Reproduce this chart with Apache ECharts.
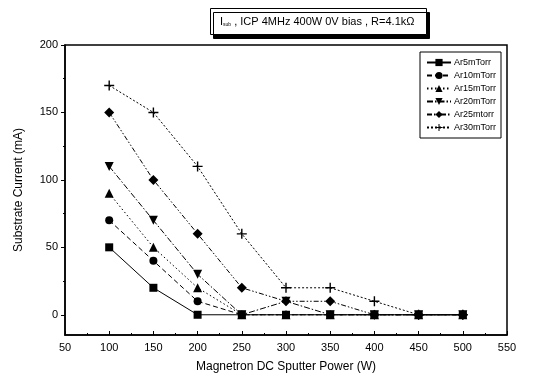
<!DOCTYPE html>
<html>
<head>
<meta charset="utf-8">
<script src="https://cdn.jsdelivr.net/npm/echarts@6/dist/echarts.min.js"></script>
<style>
  html, body { margin: 0; padding: 0; background: #fff; }
  #chart { width: 547px; height: 378px; }
</style>
</head>
<body>
<div id="chart"></div>
<script>
const powers = [100, 150, 200, 250, 300, 350, 400, 450, 500];
const seriesNames = ['Ar5mTorr', 'Ar10mTorr', 'Ar15mTorr', 'Ar20mTorr', 'Ar25mtorr', 'Ar30mTorr'];
const ar5 = [50, 20, 0, 0, 0, 0, 0, 0, 0];
const ar10 = [70, 40, 10, 0, 0, 0, 0, 0, 0];
const ar15 = [90, 50, 20, 0, 0, 0, 0, 0, 0];
const ar20 = [110, 70, 30, 0, 10, 0, 0, 0, 0];
const ar25 = [150, 100, 60, 20, 10, 10, 0, 0, 0];
const ar30 = [170, 150, 110, 60, 20, 20, 10, 0, 0];
const yMajorTicks = [0, 50, 100, 150, 200];
const yMinorTicks = [25, 75, 125, 175];

const allValues = [ar5, ar10, ar15, ar20, ar25, ar30];
const symbols = [
  'rect',
  'circle',
  'triangle',
  'path://M0,0L10,0L5,9Z',
  'diamond',
  'path://M4.3,0L5.7,0L5.7,4.3L10,4.3L10,5.7L5.7,5.7L5.7,10L4.3,10L4.3,5.7L0,5.7L0,4.3L4.3,4.3Z'
];
const symbolSizes = [8, 8, 9, 9, 10, 10];
const dashes = ['solid', [5, 3], [1.5, 2.5], [6, 2, 1.5, 2], [5, 2, 1.5, 2, 1.5, 2], [2, 2]];

const chart = echarts.init(document.getElementById('chart'));
const font = 'Liberation Sans, Arial, sans-serif';

chart.setOption({
  animation: false,
  title: {
    text: '{i|I}{s|sub} , ICP 4MHz 400W 0V bias , R=4.1k\u03a9',
    left: 210,
    top: 8,
    padding: [8, 12, 8, 10],
    borderColor: '#000',
    borderWidth: 1,
    backgroundColor: '#fff',
    shadowColor: '#000',
    shadowBlur: 0,
    shadowOffsetX: 3,
    shadowOffsetY: 4,
    textStyle: {
      fontFamily: font,
      fontSize: 11,
      fontWeight: 'normal',
      color: '#000',
      rich: {
        i: { fontFamily: font, fontSize: 11, color: '#000' },
        s: { fontFamily: font, fontSize: 5, color: '#000', verticalAlign: 'bottom', padding: [6, 0, 0, 0] }
      }
    }
  },
  legend: {
    data: seriesNames,
    orient: 'vertical',
    left: 420,
    top: 52,
    itemGap: 4,
    itemWidth: 24,
    itemHeight: 9,
    padding: [6, 5, 6, 6],
    borderColor: '#000',
    borderWidth: 1,
    textStyle: { fontFamily: font, fontSize: 9, color: '#000', padding: [0, 0, 0, -2] }
  },
  grid: { left: 65, right: 40, top: 45, bottom: 43, show: true, borderColor: '#000', borderWidth: 1.5 },
  xAxis: {
    type: 'value',
    min: 50,
    max: 550,
    interval: 50,
    name: 'Magnetron DC Sputter Power (W)',
    nameLocation: 'middle',
    nameGap: 26,
    nameTextStyle: { fontFamily: font, fontSize: 12, color: '#000' },
    axisLine: { onZero: false, lineStyle: { color: '#000', width: 1.5 } },
    axisTick: { inside: true, length: 4, lineStyle: { color: '#000' } },
    minorTick: { show: true, splitNumber: 2, length: 2, lineStyle: { color: '#000' } },
    axisLabel: { fontFamily: font, fontSize: 11, color: '#000', margin: 7 },
    splitLine: { show: false }
  },
  yAxis: [
    {
      type: 'value',
      min: -15,
      max: 200,
      name: 'Substrate Current (mA)',
      nameLocation: 'middle',
      nameGap: 40,
      nameTextStyle: { fontFamily: font, fontSize: 12, color: '#000' },
      axisLine: { onZero: false, lineStyle: { color: '#000', width: 1.5 } },
      axisTick: { length: 4, customValues: yMajorTicks, lineStyle: { color: '#000' } },
      axisLabel: { fontFamily: font, fontSize: 11, color: '#000', margin: 7, customValues: yMajorTicks },
      splitLine: { show: false }
    },
    {
      type: 'value',
      position: 'left',
      min: -15,
      max: 200,
      axisLine: { show: false, onZero: false },
      axisTick: { length: 2, customValues: yMinorTicks, lineStyle: { color: '#000' } },
      axisLabel: { show: false, customValues: yMinorTicks },
      splitLine: { show: false }
    }
  ],
  series: seriesNames.map((name, i) => ({
    name,
    type: 'line',
    data: powers.map((p, j) => [p, allValues[i][j]]),
    symbol: symbols[i],
    symbolSize: symbolSizes[i],
    showAllSymbol: true,
    itemStyle: { color: '#000' },
    lineStyle: { color: '#000', width: 1, type: dashes[i] },
    z: 10 - i
  }))
});
</script>
</body>
</html>
